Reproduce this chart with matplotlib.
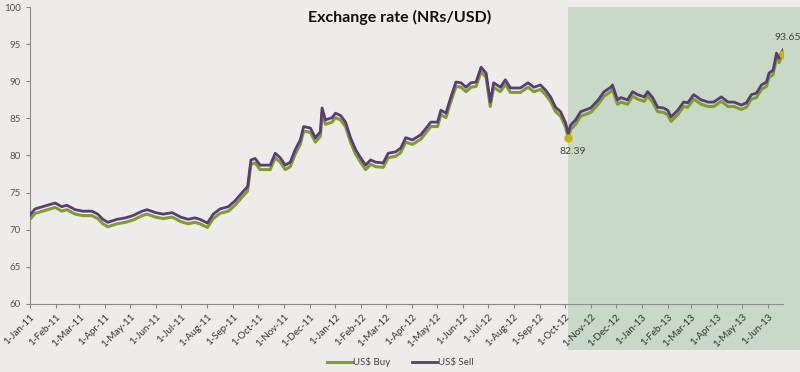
import matplotlib
matplotlib.use("Agg")
import matplotlib.pyplot as plt
import matplotlib.dates as mdates
from matplotlib.patches import Rectangle
import numpy as np
import pandas as pd

plt.rcParams['font.family'] = ['Lato', 'DejaVu Sans']

# NRs per USD
dates = ['2011-01-01', '2011-01-07', '2011-01-16', '2011-01-31', '2011-02-08', '2011-02-14',
         '2011-02-24', '2011-03-05', '2011-03-16', '2011-03-23', '2011-03-29', '2011-04-04',
         '2011-04-15', '2011-04-25', '2011-05-04', '2011-05-15', '2011-05-21', '2011-05-31',
         '2011-06-09', '2011-06-20', '2011-06-30', '2011-07-09', '2011-07-17', '2011-07-23',
         '2011-08-01', '2011-08-08', '2011-08-16', '2011-08-26', '2011-09-03', '2011-09-13',
         '2011-09-18', '2011-09-22', '2011-09-27', '2011-10-03', '2011-10-15', '2011-10-21',
         '2011-10-27', '2011-11-02', '2011-11-08', '2011-11-14', '2011-11-20', '2011-11-24',
         '2011-12-02', '2011-12-08', '2011-12-14', '2011-12-16', '2011-12-20', '2011-12-28',
         '2012-01-01', '2012-01-07', '2012-01-13', '2012-01-19', '2012-01-25', '2012-01-31',
         '2012-02-06', '2012-02-12', '2012-02-18', '2012-02-27', '2012-03-04', '2012-03-13',
         '2012-03-19', '2012-03-25', '2012-04-02', '2012-04-12', '2012-04-24', '2012-05-02',
         '2012-05-06', '2012-05-12', '2012-05-18', '2012-05-24', '2012-05-30', '2012-06-05',
         '2012-06-11', '2012-06-17', '2012-06-23', '2012-06-29', '2012-07-04', '2012-07-08',
         '2012-07-16', '2012-07-22', '2012-07-28', '2012-08-09', '2012-08-18', '2012-08-25',
         '2012-09-02', '2012-09-08', '2012-09-14', '2012-09-20', '2012-09-26', '2012-10-02',
         '2012-10-05', '2012-10-08', '2012-10-14', '2012-10-20', '2012-11-01', '2012-11-10',
         '2012-11-17', '2012-11-25', '2012-11-27', '2012-12-03', '2012-12-07', '2012-12-15',
         '2012-12-21', '2012-12-27', '2013-01-04', '2013-01-08', '2013-01-14', '2013-01-20',
         '2013-01-27', '2013-02-01', '2013-02-05', '2013-02-13', '2013-02-20', '2013-02-25',
         '2013-03-04', '2013-03-13', '2013-03-21', '2013-03-28', '2013-04-06', '2013-04-14',
         '2013-04-21', '2013-04-30', '2013-05-06', '2013-05-12', '2013-05-18', '2013-05-24',
         '2013-05-30', '2013-06-02', '2013-06-07', '2013-06-11', '2013-06-14', '2013-06-17',
         '2013-06-19']

usd_sell = [72.0, 72.8, 73.1, 73.6, 73.1, 73.3,
            72.7, 72.5, 72.5, 72.1, 71.4, 71.0,
            71.4, 71.6, 71.9, 72.5, 72.7, 72.3,
            72.1, 72.3, 71.7, 71.4, 71.6, 71.4,
            70.9, 72.1, 72.8, 73.1, 73.9, 75.2,
            75.8, 79.4, 79.6, 78.7, 78.7, 80.3,
            79.7, 78.7, 79.1, 80.8, 82.1, 83.9,
            83.7, 82.4, 83.2, 86.4, 84.8, 85.1,
            85.7, 85.4, 84.5, 82.4, 80.8, 79.7,
            78.7, 79.4, 79.1, 79.0, 80.3, 80.5,
            81.0, 82.4, 82.1, 82.8, 84.5, 84.5,
            86.1, 85.7, 87.9, 89.9, 89.8, 89.2,
            89.8, 89.9, 91.9, 91.1, 87.2, 89.8,
            89.2, 90.2, 89.1, 89.1, 89.8, 89.2,
            89.5, 88.8, 87.9, 86.5, 85.9, 84.4,
            82.99, 84.1, 84.8, 85.9, 86.4, 87.5,
            88.6, 89.2, 89.5, 87.5, 87.8, 87.5,
            88.6, 88.2, 87.9, 88.6, 87.8, 86.5,
            86.4, 86.1, 85.2, 86.1, 87.2, 87.1,
            88.2, 87.5, 87.2, 87.2, 87.9, 87.2,
            87.2, 86.8, 87.1, 88.2, 88.4, 89.5,
            89.9, 91.1, 91.5, 93.8, 93.1, 93.9,
            94.25]

usd_buy = [71.4, 72.2, 72.5, 73.0, 72.5, 72.7,
           72.1, 71.9, 71.9, 71.5, 70.8, 70.4,
           70.8, 71.0, 71.3, 71.9, 72.1, 71.7,
           71.5, 71.7, 71.1, 70.8, 71.0, 70.8,
           70.3, 71.5, 72.2, 72.5, 73.3, 74.6,
           75.2, 78.8, 79.0, 78.1, 78.1, 79.7,
           79.1, 78.1, 78.5, 80.2, 81.5, 83.3,
           83.1, 81.8, 82.6, 85.8, 84.2, 84.5,
           85.1, 84.8, 83.9, 81.8, 80.2, 79.1,
           78.1, 78.8, 78.5, 78.4, 79.7, 79.9,
           80.4, 81.8, 81.5, 82.2, 83.9, 83.9,
           85.5, 85.1, 87.3, 89.3, 89.2, 88.6,
           89.2, 89.3, 91.3, 90.5, 86.6, 89.2,
           88.6, 89.6, 88.5, 88.5, 89.2, 88.6,
           88.9, 88.2, 87.3, 85.9, 85.3, 83.8,
           82.39, 83.5, 84.2, 85.3, 85.8, 86.9,
           88.0, 88.6, 88.9, 86.9, 87.2, 86.9,
           88.0, 87.6, 87.3, 88.0, 87.2, 85.9,
           85.8, 85.5, 84.6, 85.5, 86.6, 86.5,
           87.6, 86.9, 86.6, 86.6, 87.3, 86.6,
           86.6, 86.2, 86.5, 87.6, 87.8, 88.9,
           89.3, 90.5, 90.9, 93.2, 92.5, 93.3,
           93.65]

tick_dates = pd.date_range('2011-01-01', '2013-06-01', freq='MS')

x = pd.to_datetime(dates)
buy = np.array(usd_buy)
sell = np.array(usd_sell)

bg = '#eeecea'
fig = plt.figure(figsize=(8, 3.72), dpi=100, facecolor=bg)
ax = fig.add_axes([0.0375, 0.183, 0.9415, 0.798])
ax.patch.set_visible(False)
ax.set_zorder(2)

ax.plot(x, buy, color='#7f9f2c', lw=2.2, zorder=3, label='US$ Buy')
ax.plot(x, sell, color='#5b3b78', lw=2.0, zorder=4, label='US$ Sell')

# low after the mid-2012 peak, and the latest value
i_peak = int(np.argmax(buy[x < pd.Timestamp('2013-01-01')]))
i_lo = i_peak + int(np.argmin(buy[i_peak:]))
i_hi = len(buy) - 1
for i, dy, va in [(i_lo, -7, 'top'), (i_hi, 9, 'bottom')]:
    ax.plot(x[i], buy[i], 'o', color='#c8b400', ms=5, zorder=5)
    ax.annotate(f'{buy[i]:.2f}', (mdates.date2num(x[i]), buy[i]), xytext=(3, dy),
                textcoords='offset points', ha='center', va=va, fontsize=7.5,
                color='#444444')

ax.set_ylim(60, 100)
ax.set_yticks(range(60, 101, 5))
ax.set_xlim(pd.Timestamp('2011-01-01'), x[-1])
ax.set_xticks(tick_dates)
ax.set_xticklabels([f'1-{d:%b-%y}' for d in tick_dates], rotation=45, ha='right',
                   rotation_mode='anchor', fontsize=7, color='#333333')
ax.tick_params(axis='y', labelsize=7, labelcolor='#555555', length=3, color='#888888')
ax.tick_params(axis='x', length=3, color='#888888', pad=3)
for s in ['top', 'right']:
    ax.spines[s].set_visible(False)
for s in ['left', 'bottom']:
    ax.spines[s].set_color('#8a8a8a')

# shaded recovery period from the low to the end
fig.canvas.draw()
x0_px = ax.transData.transform((mdates.date2num(x[i_lo]), 60))[0]
fw, fh = fig.bbox.width, fig.bbox.height
ytop = ax.get_position().y1
shade = Rectangle((x0_px / fw, 22 / fh), 1 - x0_px / fw, ytop - 22 / fh,
                  transform=fig.transFigure, facecolor='#c8d9c7', edgecolor='none',
                  zorder=-1)
fig.patches.append(shade)

fig.text(0.499, 0.952, 'Exchange rate (NRs/USD)', ha='center', va='center',
         fontsize=11.5, fontweight='bold', color='#111111')

fig.legend(loc='lower center', bbox_to_anchor=(0.5, -0.01), ncol=2, frameon=False,
           fontsize=7, handlelength=2.6, handletextpad=0.1, columnspacing=2.2,
           labelcolor='#444444')

fig.savefig('out.png', dpi=100, facecolor=bg)
